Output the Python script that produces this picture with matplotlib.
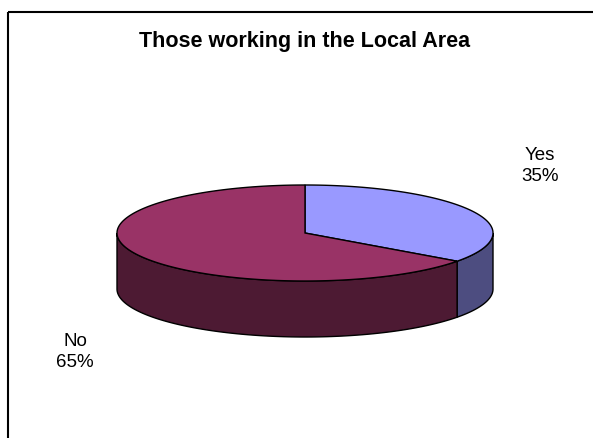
import numpy as np
import matplotlib.pyplot as plt
import matplotlib.patches as patches

# chart data
labels = ['Yes', 'No']
shares = [35, 65]
top_colors = ['#9999ff', '#993366']
side_colors = ['#4d4d80', '#4d1a33']
title = 'Those working in the Local Area'

# pie geometry (pixels)
cx, cy = 305, 233
rx, ry = 188, 48
depth = 56
label_pos = [(540, 166), (75, 352)]

fig = plt.figure(figsize=(5.93, 4.38), dpi=100)
ax = fig.add_axes([0, 0, 1, 1])
ax.set_xlim(0, 593)
ax.set_ylim(438, 0)
ax.axis('off')


def rim(theta):
    return cx + rx * np.cos(theta), cy - ry * np.sin(theta)


# slices run clockwise from 12 o'clock
starts = []
angle = 90.0
for s in shares:
    starts.append((angle, angle - 360.0 * s / sum(shares)))
    angle -= 360.0 * s / sum(shares)

# side walls: only the front half (angles between 0 and -180) is visible
for (a0, a1), col in zip(starts, side_colors):
    lo, hi = max(min(a0, 0), -180), max(min(a1, 0), -180)
    if lo == hi:
        continue
    t = np.radians(np.linspace(lo, hi, 120))
    x, y = rim(t)
    pts = list(zip(x, y)) + list(zip(x[::-1], y[::-1] + depth))
    ax.add_patch(patches.Polygon(pts, closed=True, facecolor=col,
                                 edgecolor='black', linewidth=1))

# top surfaces
for (a0, a1), col in zip(starts, top_colors):
    t = np.radians(np.linspace(a0, a1, 200))
    x, y = rim(t)
    pts = [(cx, cy)] + list(zip(x, y))
    ax.add_patch(patches.Polygon(pts, closed=True, facecolor=col,
                                 edgecolor='black', linewidth=1))

for lab, s, (lx, ly) in zip(labels, shares, label_pos):
    ax.text(lx, ly, f'{lab}\n{s}%', ha='center', va='center',
            fontsize=13.5, family='Liberation Sans', linespacing=1.35)

ax.text(305, 42, title, ha='center', va='center', fontsize=15.5,
        fontweight='bold', family='Liberation Sans')

# chart area border
ax.add_patch(patches.Rectangle((8, 12), 600, 440, fill=False,
                               edgecolor='black', linewidth=1.5))

fig.savefig('out.png', dpi=100)
